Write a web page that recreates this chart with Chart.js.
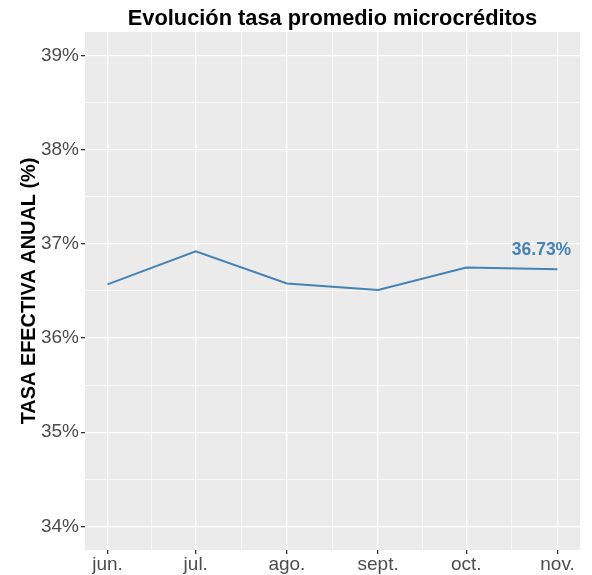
<!DOCTYPE html>
<html>
<head>
<meta charset="utf-8">
<script src="https://cdn.jsdelivr.net/npm/chart.js@4.4.1/dist/chart.umd.min.js"></script>
<style>
  body { margin: 0; background: #fff; }
  canvas { display: block; }
</style>
</head>
<body>
<canvas id="tasaChart" width="592" height="575"></canvas>
<script>
// months shown on the x axis and their day offset from 1 June
const months = ['jun.', 'jul.', 'ago.', 'sept.', 'oct.', 'nov.'];
const monthDays = [0, 30, 61, 92, 122, 153];
// average effective annual rate (%)
const rates = [36.57, 36.92, 36.58, 36.51, 36.75, 36.73];
const yTicks = [34, 35, 36, 37, 38, 39];
const lastLabel = '36.73%';

const LINE = '#4682B4';
const FONT = "'Liberation Sans', Arial, Helvetica, sans-serif";

// minor breaks halfway between the majors, like ggplot
const mid = arr => arr.slice(1).map((v, i) => (v + arr[i]) / 2);
const xMinor = mid(monthDays);
const yMinor = mid(yTicks);
const xSpan = monthDays[monthDays.length - 1] - monthDays[0];
const ySpan = yTicks[yTicks.length - 1] - yTicks[0];

const panelBg = {
    id: 'panelBg',
    beforeDraw(chart) {
        const { ctx, chartArea: a } = chart;
        ctx.save();
        ctx.fillStyle = '#EBEBEB';
        ctx.fillRect(a.left, a.top, a.right - a.left, a.bottom - a.top);
        ctx.restore();
    }
};

const endLabel = {
    id: 'endLabel',
    afterDatasetsDraw(chart) {
        const meta = chart.getDatasetMeta(0);
        const pt = meta.data[meta.data.length - 1];
        const ctx = chart.ctx;
        ctx.save();
        ctx.font = 'bold 17.5px ' + FONT;
        ctx.fillStyle = LINE;
        ctx.textAlign = 'center';
        ctx.textBaseline = 'middle';
        ctx.fillText(lastLabel, pt.x - 16, pt.y - 19.5);
        ctx.restore();
    }
};

const isMajor = (list, v) => list.some(t => Math.abs(t - v) < 1e-6);

new Chart(document.getElementById('tasaChart'), {
    type: 'line',
    data: {
        datasets: [{
            data: monthDays.map((d, i) => ({ x: d, y: rates[i] })),
            borderColor: LINE,
            borderWidth: 2,
            pointRadius: 0,
            tension: 0,
            fill: false
        }]
    },
    options: {
        responsive: false,
        animation: false,
        layout: { padding: { left: 0, right: 12, top: 0, bottom: 0 } },
        plugins: {
            legend: { display: false },
            tooltip: { enabled: false },
            title: {
                display: true,
                fullSize: false,
                text: 'Evolución tasa promedio microcréditos',
                color: '#000',
                font: { family: FONT, size: 21.8, weight: 'bold', lineHeight: 1.2 },
                padding: { top: 5.5, bottom: 0.3 }
            }
        },
        scales: {
            x: {
                type: 'linear',
                min: monthDays[0] - 0.05 * xSpan,
                max: monthDays[monthDays.length - 1] + 0.05 * xSpan,
                afterBuildTicks: s => {
                    s.ticks = [...monthDays, ...xMinor].sort((a, b) => a - b).map(v => ({ value: v }));
                },
                afterFit: s => { s.height = 25; },
                border: { display: false },
                grid: {
                    color: '#FFFFFF',
                    lineWidth: c => isMajor(monthDays, c.tick.value) ? 1.3 : 0.7,
                    tickColor: c => isMajor(monthDays, c.tick.value) ? '#333333' : 'rgba(0,0,0,0)',
                    tickLength: 4
                },
                ticks: {
                    autoSkip: false,
                    maxRotation: 0,
                    padding: -1,
                    color: '#4D4D4D',
                    font: { family: FONT, size: 19 },
                    callback: v => {
                        const i = monthDays.indexOf(v);
                        return i >= 0 ? months[i] : '';
                    }
                }
            },
            y: {
                min: yTicks[0] - 0.05 * ySpan,
                max: yTicks[yTicks.length - 1] + 0.05 * ySpan,
                afterBuildTicks: s => {
                    s.ticks = [...yTicks, ...yMinor].sort((a, b) => a - b).map(v => ({ value: v }));
                },
                afterFit: s => { s.width = 85; },
                border: { display: false },
                grid: {
                    color: '#FFFFFF',
                    lineWidth: c => isMajor(yTicks, c.tick.value) ? 1.3 : 0.7,
                    tickColor: c => isMajor(yTicks, c.tick.value) ? '#333333' : 'rgba(0,0,0,0)',
                    tickLength: 4
                },
                ticks: {
                    autoSkip: false,
                    padding: 2,
                    color: '#4D4D4D',
                    font: { family: FONT, size: 19 },
                    callback: v => isMajor(yTicks, v) ? Math.round(v) + '%' : ''
                },
                title: {
                    display: true,
                    text: 'TASA EFECTIVA ANUAL (%)',
                    color: '#000',
                    font: { family: FONT, size: 19.9, weight: 'bold', lineHeight: 1.2 },
                    padding: { top: 18, bottom: 0 }
                }
            }
        }
    },
    plugins: [panelBg, endLabel]
});
</script>
</body>
</html>
